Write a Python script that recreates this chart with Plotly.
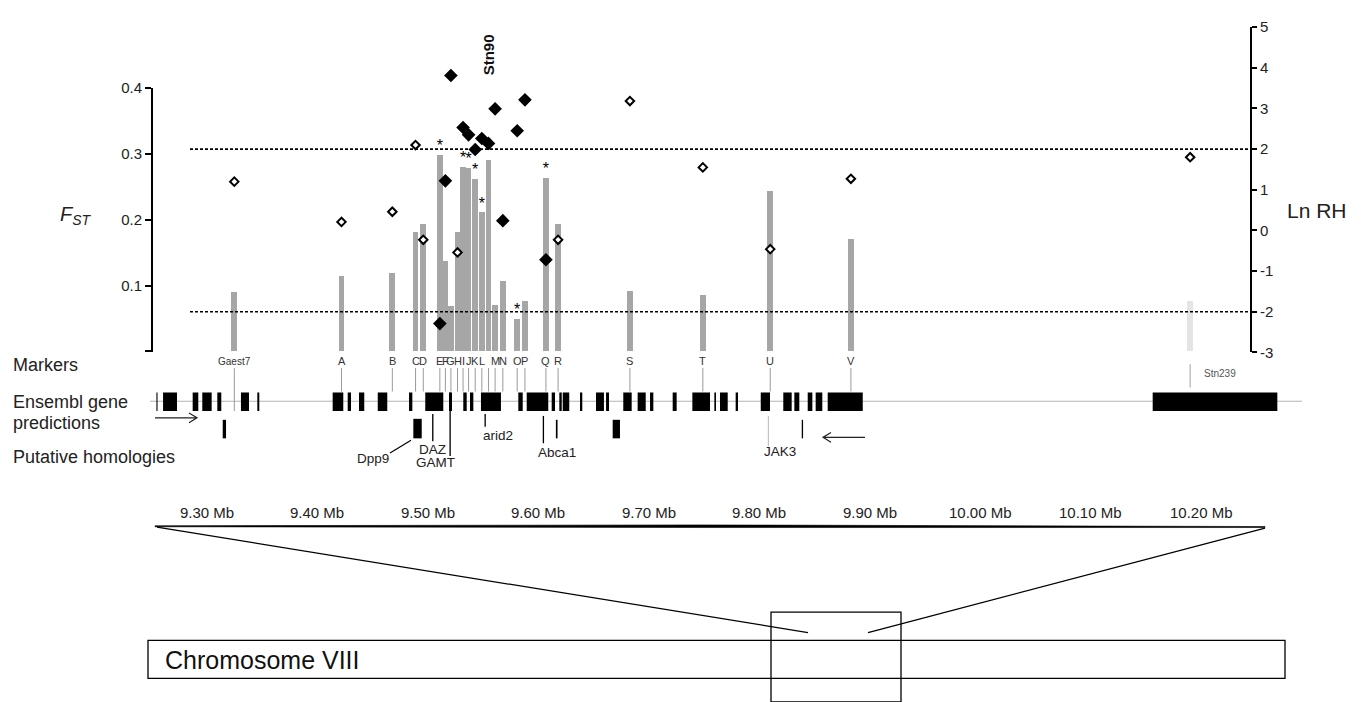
import plotly.graph_objects as go

W, H = 1366, 702

# ---------------- data ----------------
markers = ["Gaest7", "A", "B", "C", "D", "E", "F", "G", "H", "I", "J", "K", "L",
           "Stn90", "M", "N", "O", "P", "Q", "R", "S", "T", "U", "V", "Stn239"]
position_mb = [9.325, 9.422, 9.468, 9.489, 9.496, 9.511, 9.516, 9.521, 9.527, 9.532,
               9.537, 9.543, 9.549, 9.555, 9.561, 9.568, 9.581, 9.588, 9.607, 9.618,
               9.683, 9.749, 9.810, 9.883, 10.190]
fst = [0.091, 0.114, 0.119, 0.181, 0.194, 0.298, 0.137, 0.069, 0.181, 0.280,
       0.279, 0.262, 0.211, 0.290, 0.071, 0.107, 0.050, 0.077, 0.264, 0.193,
       0.092, 0.085, 0.244, 0.170, 0.077]
fst_significant = [0, 0, 0, 0, 0, 1, 0, 0, 0, 1, 1, 1, 1, 1, 0, 0, 1, 0, 1, 0, 0, 0, 0, 0, 0]
ln_rh = [1.20, 0.21, 0.46, 2.10, -0.23, -2.29, 1.22, 3.81, -0.54, 2.53,
         2.35, 1.99, 2.26, 2.14, 2.99, 0.24, 2.45, 3.21, -0.72, -0.23,
         3.18, 1.55, -0.46, 1.27, 1.80]
rh_significant = [0, 0, 0, 0, 0, 1, 1, 1, 0, 1, 1, 1, 1, 1, 1, 1, 1, 1, 1, 0, 0, 0, 0, 0, 0]
rh_thresholds = [2.0, -2.0]

fst_ticks = [0.1, 0.2, 0.3, 0.4]
rh_ticks = [-3, -2, -1, 0, 1, 2, 3, 4, 5]
scale_ticks_mb = [9.30, 9.40, 9.50, 9.60, 9.70, 9.80, 9.90, 10.00, 10.10, 10.20]

gene_start = [9.2545, 9.2605, 9.2873, 9.2960, 9.3096, 9.3310, 9.3458, 9.4140, 9.4276, 9.4378,
              9.4548, 9.4831, 9.4978, 9.5193, 9.5322, 9.5383, 9.5482, 9.5820, 9.5896, 9.6122,
              9.6191, 9.6222, 9.6378, 9.6523, 9.6614, 9.6770, 9.6900, 9.7012, 9.7217, 9.7395,
              9.7594, 9.7645, 9.7787, 9.8014, 9.8218, 9.8318, 9.8439, 9.8511, 9.8620, 10.1561]
gene_end = [9.2555, 9.2731, 9.2924, 9.3045, 9.3132, 9.3383, 9.3476, 9.4236, 9.4306, 9.4426,
            9.4634, 9.4861, 9.5141, 9.5220, 9.5353, 9.5413, 9.5663, 9.5860, 9.6091, 9.6152,
            9.6213, 9.6281, 9.6399, 9.6595, 9.6641, 9.6846, 9.6973, 9.7042, 9.7253, 9.7555,
            9.7609, 9.7715, 9.7808, 9.8098, 9.8294, 9.8363, 9.8481, 9.8571, 9.8937, 10.2689]

homology_names = ["", "Dpp9", "DAZ", "GAMT", "arid2", "Abca1", "", "", "JAK3", ""]
homology_start = [9.3145, 9.4870, 9.5040, 9.5197, 9.5514, 9.6041, 9.6160, 9.6674, 9.8078, 9.8385]
homology_end = [9.3175, 9.4946, 9.5052, 9.5209, 9.5526, 9.6053, 9.6175, 9.6740, 9.8088, 9.8397]

# ---------------- layout helpers (pixel -> paper) ----------------
X_MIN = 9.30 - 206.7 / 1105.0
X_MAX = 9.30 + (W - 206.7) / 1105.0


def px(x):
    return x / W


def py(y):
    return 1 - y / H


def mb(xp):
    return X_MIN + xp / W * (X_MAX - X_MIN)


FONT = "Liberation Sans, Arial, Helvetica, sans-serif"
BAR_GREY = "#a6a6a6"


def note(x, y, text, size, color="#222", xref="paper", xanchor="center", **kw):
    d = dict(x=x, y=y, xref=xref, yref="paper", text=text, showarrow=False,
             xanchor=xanchor, yanchor="middle", font=dict(size=size, color=color, family=FONT))
    d.update(kw)
    return d


fig = go.Figure()

# F_ST bars
bar_colors = [BAR_GREY if m != "Stn239" else "#e4e4e4" for m in markers]
fig.add_trace(go.Bar(x=position_mb, y=fst, width=0.0052, marker=dict(color=bar_colors, line=dict(width=0)),
                     xaxis="x", yaxis="y", showlegend=False))

# asterisks
ax_x = [p for p, s in zip(position_mb, fst_significant) if s]
ax_y = [f for f, s in zip(fst, fst_significant) if s]
fig.add_trace(go.Scatter(x=ax_x, y=ax_y, mode="text", text=["*"] * len(ax_x),
                         textposition="top center", textfont=dict(size=16, color="black", family=FONT),
                         xaxis="x", yaxis="y", showlegend=False, cliponaxis=False))

# threshold dashed lines (Ln RH)
for t in rh_thresholds:
    fig.add_trace(go.Scatter(x=[mb(190), mb(1250)], y=[t, t], mode="lines",
                             line=dict(color="black", width=1.6, dash="3px,2px"),
                             xaxis="x", yaxis="y2", showlegend=False))

# Ln RH diamonds
open_x = [p for p, s in zip(position_mb, rh_significant) if not s]
open_y = [v for v, s in zip(ln_rh, rh_significant) if not s]
fill_x = [p for p, s in zip(position_mb, rh_significant) if s]
fill_y = [v for v, s in zip(ln_rh, rh_significant) if s]
fig.add_trace(go.Scatter(x=open_x, y=open_y, mode="markers",
                         marker=dict(symbol="diamond", size=6.5, color="white",
                                     line=dict(color="black", width=2)),
                         xaxis="x", yaxis="y2", showlegend=False, cliponaxis=False))
fig.add_trace(go.Scatter(x=fill_x, y=fill_y, mode="markers",
                         marker=dict(symbol="diamond", size=10.5, color="black",
                                     line=dict(color="black", width=0)),
                         xaxis="x", yaxis="y2", showlegend=False, cliponaxis=False))

shapes = []
annotations = []

# marker labels + connector lines
for m, p in zip(markers, position_mb):
    if m == "Stn90":
        annotations.append(note(p, py(47), "<b>Stn90</b>", 15, "#111", xref="x", textangle=-90))
        shapes.append(dict(type="line", xref="x", yref="paper", x0=p, x1=p, y0=py(368), y1=py(392),
                           line=dict(color="#9a9a9a", width=1)))
        continue
    if m == "Stn239":
        annotations.append(note(p, py(374), m, 10, "#555", xref="x", xanchor="left", xshift=12))
        shapes.append(dict(type="line", xref="x", yref="paper", x0=p, x1=p, y0=py(364), y1=py(388),
                           line=dict(color="#b0b0b0", width=1.2)))
        continue
    size = 10 if m == "Gaest7" else 11
    annotations.append(note(p, py(361), m, size, "#333", xref="x"))
    y_end = 412 if m == "Gaest7" else 392
    shapes.append(dict(type="line", xref="x", yref="paper", x0=p, x1=p, y0=py(368), y1=py(y_end),
                       line=dict(color="#9a9a9a", width=1)))

# gene prediction row
shapes.append(dict(type="line", xref="x", yref="paper", x0=mb(150), x1=mb(1302), y0=py(402), y1=py(402),
                   line=dict(color="#b5b5b5", width=1.2), layer="below"))
for s, e in zip(gene_start, gene_end):
    shapes.append(dict(type="rect", xref="x", yref="paper", x0=s, x1=e, y0=py(412), y1=py(393),
                       fillcolor="black", line=dict(width=0)))

# putative homologies
hom_style = {  # (top px, bottom px, colour)
    "": (421, 440, "black"), "Dpp9": (420, 440, "black"), "DAZ": (415, 443, "black"),
    "GAMT": (393, 458, "black"), "arid2": (415, 428, "black"), "Abca1": (417, 445, "black"),
    "JAK3": (417, 448, "#bdbdbd"),
}
for n, s, e in zip(homology_names, homology_start, homology_end):
    t, b, c = hom_style[n]
    shapes.append(dict(type="rect", xref="x", yref="paper", x0=s, x1=e, y0=py(b), y1=py(t),
                       fillcolor=c, line=dict(width=0)))
label_place = {"Dpp9": (373, 461), "DAZ": (432, 451), "GAMT": (435, 465),
               "arid2": (498, 437), "Abca1": (557, 455), "JAK3": (780, 453)}
for n, (lx, ly) in label_place.items():
    annotations.append(note(px(lx), py(ly), n, 13.5, "#222"))
shapes.append(dict(type="line", xref="paper", yref="paper", x0=px(390), y0=py(455), x1=px(411), y1=py(442),
                   line=dict(color="black", width=1.2)))


# direction arrows
def arrow_path(x0, x1, y, head=8, half=5):
    d = 1 if x1 > x0 else -1
    return (f"M {px(x0)},{py(y)} L {px(x1)},{py(y)} "
            f"M {px(x1 - d * head)},{py(y - half)} L {px(x1)},{py(y)} L {px(x1 - d * head)},{py(y + half)}")


shapes.append(dict(type="path", xref="paper", yref="paper", path=arrow_path(155, 197, 419),
                   line=dict(color="#222", width=1.2)))
shapes.append(dict(type="path", xref="paper", yref="paper", path=arrow_path(865, 823, 439),
                   line=dict(color="#222", width=1.2)))

# row titles
for txt, yy in [("Markers", 365), ("Ensembl gene", 403), ("predictions", 424), ("Putative homologies", 459)]:
    annotations.append(note(px(11), py(yy), txt, 18, "#222", xanchor="left"))

# axis titles
annotations.append(note(px(76), py(212), "<i>F</i><sub><i>ST</i></sub>", 20, "#222"))
annotations.append(note(px(1317), py(207), "Ln RH", 21, "#222"))

# physical scale
for v in scale_ticks_mb:
    annotations.append(note(v, py(516), f"{v:.2f} Mb", 15, "#222", xref="x"))
# tapered scale bar line
pts = [(155, 529.6), (700, 528.7), (1265, 530.4), (1265, 531.4), (700, 531.4), (155, 530.6)]
path = "M " + " L ".join(f"{px(a)},{py(b)}" for a, b in pts) + " Z"
shapes.append(dict(type="path", xref="paper", yref="paper", path=path, fillcolor="black",
                   line=dict(color="black", width=0.6)))
shapes.append(dict(type="line", xref="paper", yref="paper", x0=px(157), y0=py(531), x1=px(808), y1=py(639),
                   line=dict(color="black", width=1.3)))
shapes.append(dict(type="line", xref="paper", yref="paper", x0=px(1265), y0=py(532), x1=px(868), y1=py(639),
                   line=dict(color="black", width=1.3)))

# chromosome
shapes.append(dict(type="rect", xref="paper", yref="paper", x0=px(148), y0=py(686), x1=px(1285), y1=py(647),
                   line=dict(color="black", width=1.3), fillcolor="rgba(0,0,0,0)"))
shapes.append(dict(type="rect", xref="paper", yref="paper", x0=px(771), y0=py(710), x1=px(901), y1=py(618),
                   line=dict(color="black", width=1.3), fillcolor="rgba(0,0,0,0)"))
annotations.append(note(px(163), py(667), "Chromosome VIII", 25, "#111", xanchor="left"))

fig.update_layout(
    width=W, height=H, margin=dict(l=0, r=0, t=0, b=0),
    paper_bgcolor="white", plot_bgcolor="rgba(0,0,0,0)",
    bargap=0, showlegend=False, hovermode=False,
    font=dict(family=FONT, color="#222"),
    xaxis=dict(domain=[0, 1], range=[X_MIN, X_MAX], visible=False, fixedrange=True),
    yaxis=dict(domain=[py(351), py(81)], range=[0, 0.4], anchor="free", position=px(152),
               tickvals=fst_ticks, ticktext=[f"{v:.1f}" for v in fst_ticks],
               ticks="outside", ticklen=6, tickwidth=1.5, tickcolor="black",
               minor=dict(tickvals=[0.0], ticks="outside", ticklen=6, tickwidth=1.5, tickcolor="black",
                          showgrid=False),
               showline=True, linecolor="black", linewidth=1.8, showgrid=False, zeroline=False,
               fixedrange=True, tickfont=dict(size=15, color="#222", family=FONT)),
    yaxis2=dict(domain=[py(352), py(18.5)], range=[-3, 5], anchor="free", position=px(1251), side="right",
                tickvals=rh_ticks, ticktext=[str(v) for v in rh_ticks],
                ticks="outside", ticklen=5, tickwidth=1.5, tickcolor="black",
                showline=True, linecolor="black", linewidth=1.8, showgrid=False, zeroline=False,
                fixedrange=True, tickfont=dict(size=15, color="#222", family=FONT)),
    shapes=shapes, annotations=annotations,
)

fig.write_html("out.html", config={"displayModeBar": False},
               post_script="document.body.style.margin='0px';document.body.style.overflow='hidden';")
